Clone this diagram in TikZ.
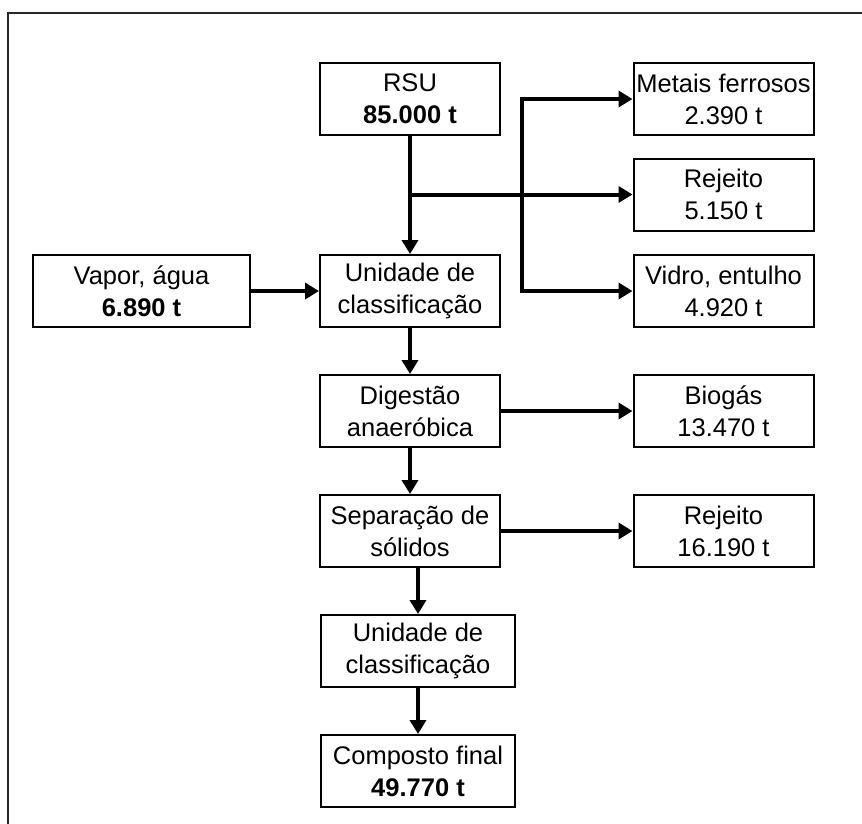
\documentclass[tikz,border=0pt]{standalone}
\usepackage{fontspec}
\setmainfont{Liberation Sans}
\usetikzlibrary{arrows.meta}
\begin{document}
\begin{tikzpicture}[x=1pt,y=-1pt,
  box/.style={draw=black, line width=2pt, minimum height=72pt, inner sep=0pt,
    align=center, font=\fontsize{25.5}{32}\selectfont},
  wbox/.style={box, minimum width=180pt},
  arr/.style={line width=4pt, -{Triangle[length=14pt,width=16pt]}, line join=miter},
  frameline/.style={line width=2pt, black!85}
]
\useasboundingbox (0,0) rectangle (862,823);
\draw[frameline] (8,840) -- (8,13) -- (880,13);

\node[wbox] (rsu) at (410,99) {RSU\\\textbf{85.000 t}};
\node[wbox] (met) at (723.5,99) {Metais ferrosos\\2.390 t};
\node[wbox] (rej1) at (723.5,194.5) {Rejeito\\5.150 t};
\node[wbox] (vid) at (723.5,291) {Vidro, entulho\\4.920 t};
\node[wbox] (un1) at (410,291) {Unidade de\\classificação};
\node[box, minimum width=217pt] (vap) at (141.5,291) {Vapor, água\\\textbf{6.890 t}};
\node[wbox] (dig) at (410,411) {Digestão\\anaeróbica};
\node[wbox] (bio) at (723.5,411) {Biogás\\13.470 t};
\node[wbox] (sep) at (410,531) {Separação de\\sólidos};
\node[wbox] (rej2) at (723.5,531) {Rejeito\\16.190 t};
\node[box, minimum width=194pt] (un2) at (418,651) {Unidade de\\classificação};
\node[box, minimum width=194pt] (comp) at (418,771) {Composto final\\\textbf{49.770 t}};

\coordinate (b1) at (rsu.south |- rej1.west);
\coordinate (jx) at (522,0);
\coordinate (jm) at (jx |- rej1.west);

\draw[arr] (rsu.south) -- (un1.north);
\draw[arr] (b1) -- (rej1.west);
\draw[arr] (jm) -- (jx |- met.west) -- (met.west);
\draw[arr] (jm) -- (jx |- vid.west) -- (vid.west);
\draw[arr] (vap.east) -- (un1.west);
\draw[arr] (un1.south) -- (dig.north);
\draw[arr] (dig.east) -- (bio.west);
\draw[arr] (dig.south) -- (sep.north);
\draw[arr] (sep.east) -- (rej2.west);
\draw[arr] (sep.south -| un2.north) -- (un2.north);
\draw[arr] (un2.south) -- (comp.north);
\end{tikzpicture}
\end{document}
